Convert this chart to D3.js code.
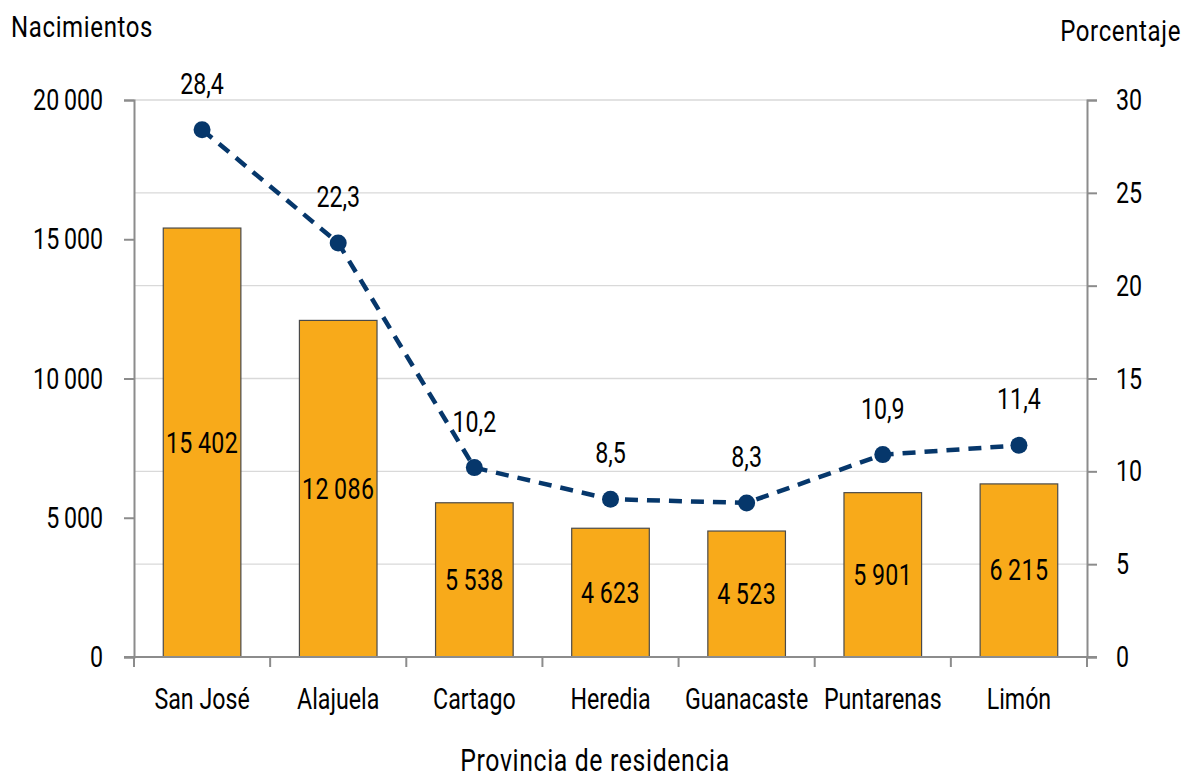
<!DOCTYPE html>
<html>
<head>
<meta charset="utf-8">
<script src="https://cdn.jsdelivr.net/npm/d3@7"></script>
<style>
  body { margin: 0; background: #fff; }
  text { font-family: Roboto, "DejaVu Sans", sans-serif; fill: #000; }
</style>
</head>
<body>
<div id="chart"></div>
<script>
// Nacimientos por provincia de residencia
const provincias = ["San José", "Alajuela", "Cartago", "Heredia", "Guanacaste", "Puntarenas", "Limón"];
const nacimientos = [15402, 12086, 5538, 4623, 4523, 5901, 6215];
const porcentaje = [28.4, 22.3, 10.2, 8.5, 8.3, 10.9, 11.4];
const leftTicks = [0, 5000, 10000, 15000, 20000];
const rightTicks = [0, 5, 10, 15, 20, 25, 30];

const width = 1183, height = 782;
const margin = {top: 100, right: 96, bottom: 125, left: 134};
const fs = 29;          // font size
const sx = 0.8;         // horizontal squeeze to mimic a condensed face

const svg = d3.select("#chart")
  .append("svg")
  .attr("width", width)
  .attr("height", height);

const x = d3.scaleBand()
  .domain(provincias)
  .range([margin.left, width - margin.right])
  .paddingInner(0.43)
  .paddingOuter(0.215);

const band = d3.scaleBand()
  .domain(provincias)
  .range([margin.left, width - margin.right]);

const yL = d3.scaleLinear().domain([0, 20000]).range([height - margin.bottom, margin.top]);
const yR = d3.scaleLinear().domain([0, 30]).range([height - margin.bottom, margin.top]);

const fmt = v => d3.format(",")(v).replace(/,/g, "\u2009");
const fmtPct = v => d3.format(".1f")(v).replace(".", ",");

const axisColor = "#8c8c8c";

// condensed text helper
function label(parent, px, py, str, anchor, size, spacing) {
  parent.append("text")
    .attr("transform", `translate(${px},${py}) scale(${sx},1)`)
    .attr("text-anchor", anchor || "middle")
    .attr("font-size", (size || fs) + "px")
    .attr("letter-spacing", spacing || 0)
    .text(str);
}

// gridlines (right axis ticks)
svg.append("g")
  .selectAll("line")
  .data(rightTicks.filter(d => d > 0))
  .enter()
  .append("line")
    .attr("x1", margin.left)
    .attr("x2", width - margin.right)
    .attr("y1", d => yR(d))
    .attr("y2", d => yR(d))
    .attr("stroke", "#d9d9d9")
    .attr("stroke-width", 1.3);

// bars
svg.append("g")
  .selectAll("rect")
  .data(provincias)
  .enter()
  .append("rect")
    .attr("x", d => x(d))
    .attr("y", (d, i) => yL(nacimientos[i]))
    .attr("width", x.bandwidth())
    .attr("height", (d, i) => yL(0) - yL(nacimientos[i]))
    .attr("fill", "#F8AA1A")
    .attr("stroke", "#4a4a4a")
    .attr("stroke-width", 1.2);

// bar labels
const barLabels = svg.append("g");
provincias.forEach((d, i) => {
  label(barLabels, x(d) + x.bandwidth() / 2, (yL(nacimientos[i]) + yL(0)) / 2 + 10, fmt(nacimientos[i]), "middle", fs, 0.5);
});

// left axis
const axL = svg.append("g")
  .attr("transform", `translate(${margin.left},0)`)
  .call(d3.axisLeft(yL).tickValues(leftTicks).tickSize(10).tickFormat(""));
axL.select(".domain").attr("stroke", axisColor).attr("stroke-width", 2);
axL.selectAll(".tick line").attr("stroke", axisColor).attr("stroke-width", 2);
leftTicks.forEach(t => label(svg, 103, yL(t) + 10, fmt(t), "end"));

// right axis
const axR = svg.append("g")
  .attr("transform", `translate(${width - margin.right},0)`)
  .call(d3.axisRight(yR).tickValues(rightTicks).tickSize(10).tickFormat(""));
axR.select(".domain").attr("stroke", axisColor).attr("stroke-width", 2);
axR.selectAll(".tick line").attr("stroke", axisColor).attr("stroke-width", 2);
rightTicks.forEach(t => label(svg, 1116, yR(t) + 10, String(t), "start"));

// bottom axis: ticks at band boundaries
const bottom = svg.append("g");
bottom.append("line")
  .attr("x1", margin.left - 10)
  .attr("x2", width - margin.right + 10)
  .attr("y1", yL(0))
  .attr("y2", yL(0))
  .attr("stroke", axisColor)
  .attr("stroke-width", 2);
const edges = provincias.map(d => band(d)).concat([band(provincias[provincias.length - 1]) + band.bandwidth()]);
bottom.selectAll("line.tk")
  .data(edges)
  .enter()
  .append("line")
    .attr("class", "tk")
    .attr("x1", d => d)
    .attr("x2", d => d)
    .attr("y1", yL(0))
    .attr("y2", yL(0) + 10)
    .attr("stroke", axisColor)
    .attr("stroke-width", 2);
provincias.forEach(d => label(bottom, band(d) + band.bandwidth() / 2, yL(0) + 52, d));

// line
const cx = i => band(provincias[i]) + band.bandwidth() / 2;
const line = d3.line()
  .x((d, i) => cx(i))
  .y(d => yR(d));

svg.append("path")
  .datum(porcentaje)
  .attr("d", line)
  .attr("fill", "none")
  .attr("stroke", "#06376B")
  .attr("stroke-width", 4.5)
  .attr("stroke-dasharray", "13,9");

svg.append("g")
  .selectAll("circle")
  .data(porcentaje)
  .enter()
  .append("circle")
    .attr("cx", (d, i) => cx(i))
    .attr("cy", d => yR(d))
    .attr("r", 8.5)
    .attr("fill", "#06376B");

const ptLabels = svg.append("g");
porcentaje.forEach((d, i) => label(ptLabels, cx(i), yR(d) - 36, fmtPct(d)));

// axis titles
label(svg, 11, 37, "Nacimientos", "start", 30, 0.8);
label(svg, 1181, 41, "Porcentaje", "end", 30, 0.8);
label(svg, 595, 771, "Provincia de residencia", "middle", 31, 0.8);
</script>
</body>
</html>
